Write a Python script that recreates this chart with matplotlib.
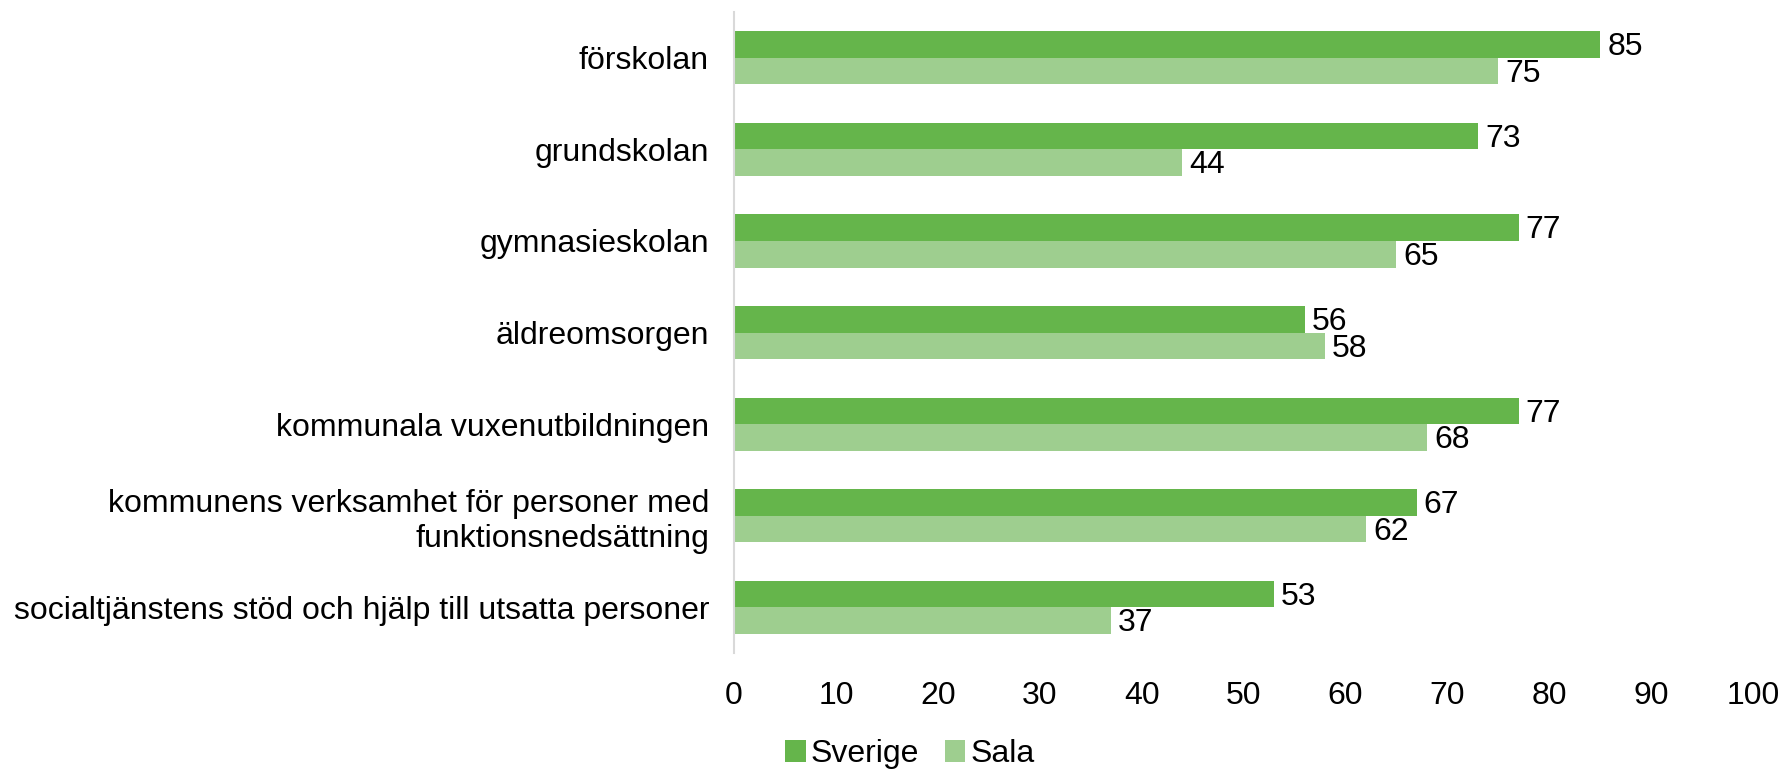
import matplotlib.pyplot as plt
import numpy as np

plt.rcParams['font.family'] = ['Liberation Sans', 'DejaVu Sans']

categories = [
    "förskolan",
    "grundskolan",
    "gymnasieskolan",
    "äldreomsorgen",
    "kommunala vuxenutbildningen",
    "kommunens verksamhet för personer med\nfunktionsnedsättning",
    "socialtjänstens stöd och hjälp till utsatta personer",
]
sverige = [85, 73, 77, 56, 77, 67, 53]
sala = [75, 44, 65, 58, 68, 62, 37]
xticks = [0, 10, 20, 30, 40, 50, 60, 70, 80, 90, 100]

dark = "#65B54B"
light = "#9ECE8F"
fs = 23

fig = plt.figure(figsize=(17.84, 7.71), dpi=100)
ax = fig.add_axes([0.4115, 0.153, 0.5711, 0.8314])

y = np.arange(len(categories))
h = 0.29
b1 = ax.barh(y - h / 2, sverige, height=h, color=dark, label="Sverige")
b2 = ax.barh(y + h / 2, sala, height=h, color=light, label="Sala")

# value labels just right of each bar end
for bars, vals in ((b1, sverige), (b2, sala)):
    for bar, v in zip(bars, vals):
        ax.text(v + 0.7, bar.get_y() + bar.get_height() / 2 + 0.03, str(v),
                va="center", ha="left", fontsize=fs, color="#000000")

ax.set_xlim(0, 100)
ax.set_ylim(len(categories) - 0.5, -0.5)
ax.set_xticks(xticks)
ax.set_yticks(y)
ax.set_yticklabels(categories, fontsize=fs, ha="right")
ax.tick_params(axis="x", length=0, labelsize=fs, pad=20)
ax.tick_params(axis="y", length=0, pad=18)

for s in ("top", "right", "bottom"):
    ax.spines[s].set_visible(False)
ax.spines["left"].set_color("#D9D9D9")
ax.spines["left"].set_linewidth(1.5)

fig.legend(handles=[b1, b2], labels=["Sverige", "Sala"], loc="lower center",
           bbox_to_anchor=(0.51, -0.035), ncol=2, frameon=False, fontsize=fs,
           handlelength=0.65, handleheight=0.65, handletextpad=0.15, columnspacing=0.8)

fig.savefig("out.png", dpi=100)
